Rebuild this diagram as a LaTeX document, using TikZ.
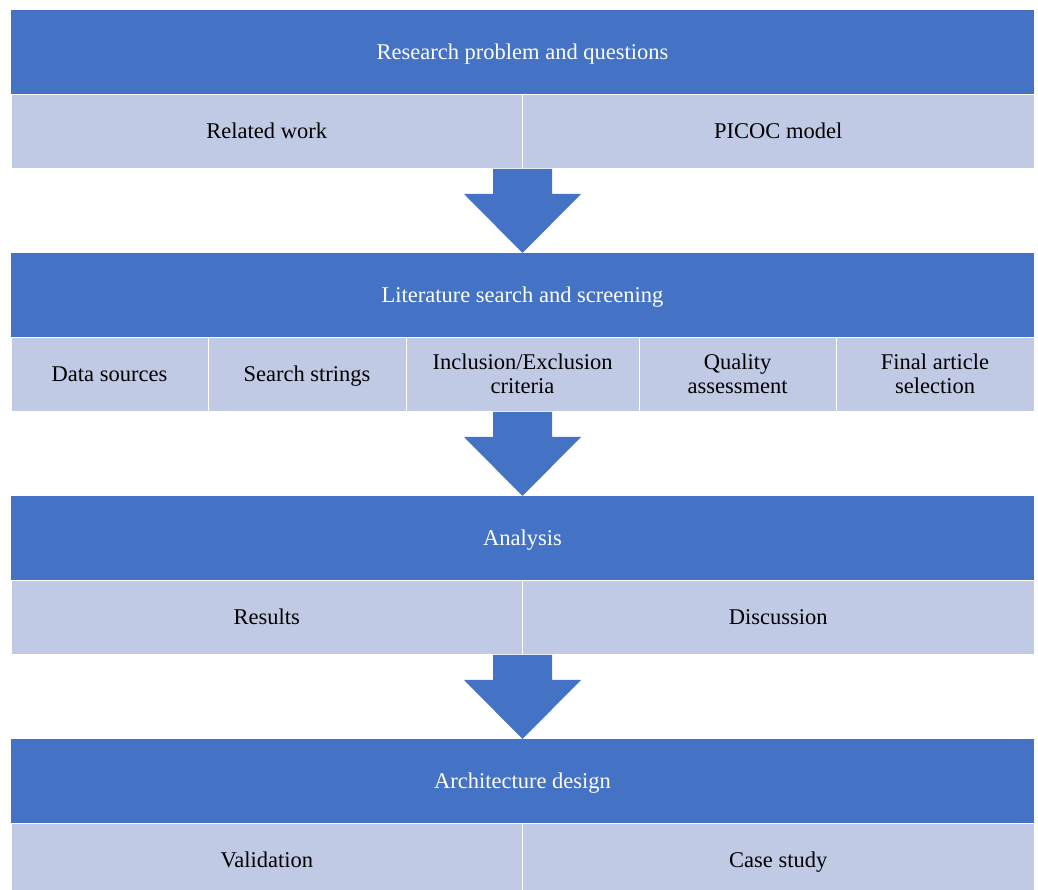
\documentclass[tikz,border=0pt]{standalone}
\usepackage{fontspec}
\setmainfont{Liberation Serif}
\definecolor{headblue}{RGB}{68, 114, 196}
\definecolor{cellblue}{RGB}{193, 202, 229}
\usetikzlibrary{calc}
\usetikzlibrary{positioning}
\tikzset{
  every node/.style={outer sep=0pt, inner sep=2pt, font=\fontsize{22.5}{24}\selectfont, align=center},
  oneline/.style={text height=20pt, text depth=4pt},
  head/.style={oneline, fill=headblue, text=white, minimum width=1023pt, minimum height=84pt},
  cell/.style={fill=cellblue, draw=white, line width=0.8pt, text=black, minimum height=74pt},
  half/.style={cell, oneline, minimum width=511.5pt}
}
\newcommand{\flowarrow}[2]{%
  \fill[headblue] let \p1=(#1), \p2=(#2) in
    (\x2-29.5pt,\y1-1pt) -- (\x2+29.5pt,\y1-1pt) -- (\x2+29.5pt,\y2+59pt) -- (\x2+58.5pt,\y2+59pt)
    -- (\x2,\y2) -- (\x2-58.5pt,\y2+59pt) -- (\x2-29.5pt,\y2+59pt) -- cycle;}

\begin{document}
\begin{tikzpicture}[x=1pt, y=1pt]
  \useasboundingbox (0,0) rectangle (1038,890);

  \node[head] (research) at (522.5,838) {Research problem and questions};
  \node[half, anchor=north west] (related) at (research.south west) {Related work};
  \node[half, anchor=north east] (picoc) at (research.south east) {PICOC model};

  \node[head, below=159pt of research] (litsearch) {Literature search and screening};
  \node[cell, oneline, minimum width=197pt, anchor=north west] (sources) at (litsearch.south west) {Data sources};
  \node[cell, oneline, minimum width=198pt, right=0pt of sources] (strings) {Search strings};
  \node[cell, minimum width=233pt, right=0pt of strings] (criteria) {Inclusion/Exclusion\\criteria};
  \node[cell, minimum width=197pt, right=0pt of criteria] (quality) {Quality\\assessment};
  \node[cell, minimum width=198pt, right=0pt of quality] (selection) {Final article\\selection};

  \node[head, below=159pt of litsearch] (analysis) {Analysis};
  \node[half, anchor=north west] (results) at (analysis.south west) {Results};
  \node[half, anchor=north east] (discussion) at (analysis.south east) {Discussion};

  \node[head, below=159pt of analysis] (design) {Architecture design};
  \node[half, anchor=north west] (validation) at (design.south west) {Validation};
  \node[half, anchor=north east] (casestudy) at (design.south east) {Case study};

  \flowarrow{related.south east}{litsearch.north}
  \flowarrow{criteria.south}{analysis.north}
  \flowarrow{results.south east}{design.north}
\end{tikzpicture}
\end{document}
